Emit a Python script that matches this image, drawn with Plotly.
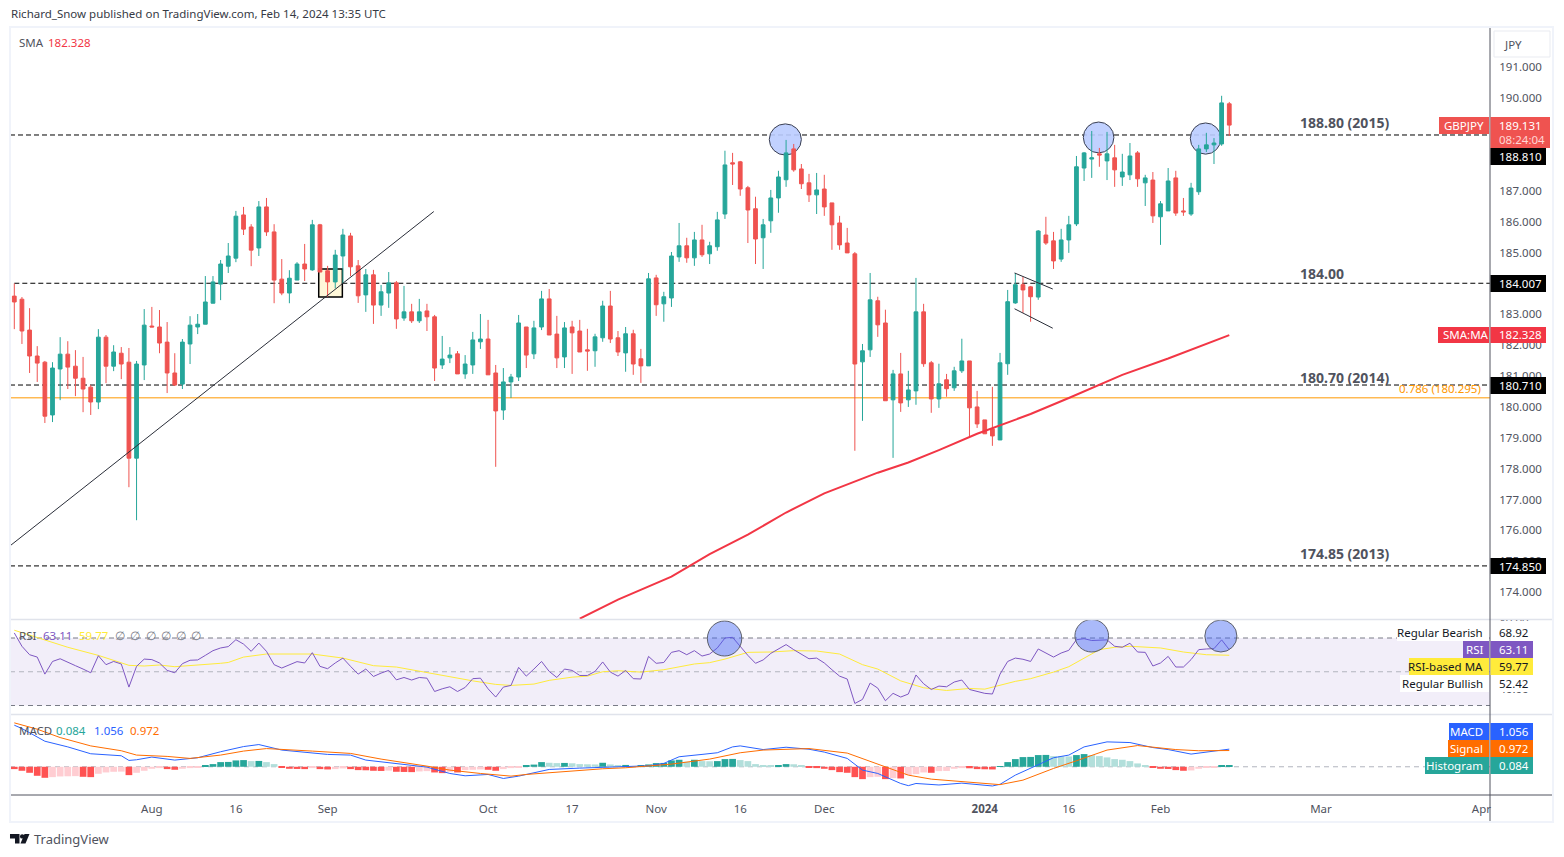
import plotly.graph_objects as go

W, H = 1564, 857
FONT = "Noto Sans"

# daily GBPJPY candles
opens = [
    183.59, 183.49, 182.49, 181.65, 181.45, 179.74, 181.23, 181.71, 181.32, 180.93,
    180.64, 180.16, 182.26, 181.32, 181.74, 181.45, 178.34, 181.36, 182.62, 182.59,
    182.10, 181.10, 180.74, 182.04, 182.59, 182.68, 183.36, 183.98, 184.56, 184.82,
    186.22, 185.83, 185.15, 186.48, 185.67, 184.14, 183.69, 184.11, 184.63, 184.44,
    185.90, 184.41, 184.05, 184.89, 185.54, 184.57, 183.63, 184.28, 183.30, 183.69,
    184.02, 182.88, 183.08, 182.79, 183.11, 182.92, 181.36, 181.59, 181.72, 181.07,
    181.36, 182.11, 182.20, 181.10, 179.90, 180.81, 180.97, 182.59, 181.72, 182.59,
    183.50, 182.36, 181.62, 182.59, 182.46, 181.85, 181.82, 182.24, 183.27, 182.24,
    181.75, 182.37, 181.56, 181.33, 184.18, 183.34, 183.53, 184.86, 185.22, 184.83,
    185.41, 184.96, 185.19, 186.25, 187.91, 187.94, 187.10, 186.42, 185.48, 186.03,
    186.77, 187.36, 188.36, 187.71, 187.26, 186.87, 187.06, 186.61, 185.96, 185.31,
    184.96, 181.46, 181.85, 183.44, 182.72, 180.23, 181.07, 180.23, 180.52, 183.08,
    181.43, 180.26, 180.88, 180.62, 181.17, 181.49, 180.00, 179.58, 179.29, 178.93,
    181.40, 183.37, 183.96, 183.89, 183.56, 185.57, 185.38, 184.79, 185.41, 185.93,
    187.74, 188.03, 188.20, 187.97, 188.07, 187.45, 187.52, 188.23, 187.26, 187.35,
    186.16, 186.35, 187.42, 186.35, 186.25, 186.97, 188.36, 188.49, 188.52, 189.82,
]
closes = [
    183.40, 182.46, 181.65, 181.42, 179.70, 181.26, 181.71, 181.29, 180.93, 180.58,
    180.16, 182.26, 181.32, 181.78, 181.39, 178.34, 181.39, 182.65, 182.59, 182.07,
    181.10, 180.71, 182.10, 182.65, 182.68, 183.40, 184.05, 184.63, 184.89, 186.18,
    185.76, 185.08, 186.48, 185.67, 184.11, 183.69, 184.17, 184.63, 184.47, 185.90,
    184.37, 184.05, 184.92, 185.57, 184.54, 183.60, 184.28, 183.30, 183.73, 184.02,
    182.85, 183.08, 182.79, 183.08, 182.92, 181.26, 181.55, 181.68, 181.07, 181.39,
    182.17, 182.20, 181.04, 179.87, 180.81, 180.97, 182.72, 181.68, 182.56, 183.50,
    182.33, 181.59, 182.56, 182.40, 181.78, 181.81, 182.27, 183.27, 182.20, 181.78,
    182.37, 181.39, 181.33, 184.15, 183.31, 183.57, 184.89, 185.22, 184.83, 185.41,
    184.93, 185.22, 186.06, 187.84, 187.87, 187.06, 186.38, 185.44, 185.90, 186.77,
    187.45, 188.23, 187.68, 187.23, 186.87, 187.03, 186.48, 185.90, 185.25, 184.99,
    181.39, 181.82, 183.47, 182.66, 180.20, 181.07, 180.13, 180.55, 183.08, 181.40,
    180.26, 180.75, 180.59, 181.17, 181.49, 179.97, 179.45, 179.13, 179.06, 181.43,
    183.41, 183.96, 183.79, 183.57, 185.70, 185.31, 184.73, 185.41, 185.90, 187.78,
    188.23, 188.07, 188.16, 188.20, 187.68, 187.61, 188.13, 187.39, 187.42, 186.19,
    186.58, 187.32, 186.28, 186.32, 187.09, 188.36, 188.49, 188.55, 189.85, 189.13,
]
highs = [
    184.00, 183.56, 183.20, 181.97, 181.49, 181.45, 182.26, 182.13, 181.84, 181.62,
    180.71, 182.52, 182.33, 182.00, 181.94, 181.91, 181.49, 183.17, 183.24, 183.14,
    182.75, 181.74, 182.20, 182.94, 183.01, 184.24, 184.24, 184.76, 185.31, 186.35,
    186.48, 185.92, 186.67, 186.77, 185.92, 184.79, 184.43, 184.69, 185.28, 186.06,
    185.93, 184.57, 185.09, 185.77, 185.64, 184.76, 184.47, 184.44, 183.95, 184.37,
    184.08, 183.92, 183.34, 183.50, 183.34, 182.98, 182.30, 181.94, 181.81, 181.68,
    182.43, 183.01, 182.82, 181.36, 181.26, 181.07, 182.98, 182.59, 182.79, 183.76,
    183.82, 182.95, 182.75, 182.79, 182.82, 182.53, 182.37, 183.44, 183.76, 182.46,
    182.59, 182.50, 181.88, 184.34, 184.28, 183.73, 185.02, 185.96, 185.48, 185.67,
    185.90, 185.35, 186.32, 188.30, 188.23, 187.97, 187.16, 186.81, 186.09, 187.03,
    187.65, 188.65, 188.52, 187.87, 187.55, 187.58, 187.52, 186.61, 186.19, 185.80,
    185.02, 182.04, 184.34, 183.57, 183.15, 181.20, 181.75, 181.17, 184.18, 183.34,
    181.49, 181.40, 181.07, 181.30, 182.21, 181.49, 180.52, 179.58, 180.65, 181.75,
    183.79, 184.34, 184.22, 183.92, 185.73, 186.16, 185.67, 185.77, 186.19, 188.13,
    188.26, 188.94, 188.39, 188.91, 188.49, 188.20, 188.55, 188.29, 187.52, 187.61,
    186.67, 187.74, 187.65, 186.77, 187.26, 188.49, 188.88, 188.71, 190.08, 189.88,
]
lows = [
    182.52, 182.04, 181.10, 180.81, 179.48, 179.51, 180.22, 180.58, 180.35, 179.83,
    179.74, 179.93, 180.77, 181.16, 180.90, 177.40, 176.33, 180.87, 182.59, 181.74,
    180.45, 180.68, 180.58, 181.39, 182.36, 182.68, 183.36, 183.46, 184.34, 184.69,
    185.57, 184.56, 184.89, 185.54, 183.36, 183.62, 183.36, 184.11, 184.08, 184.41,
    184.37, 183.57, 183.84, 184.01, 184.24, 183.37, 183.08, 182.69, 182.95, 183.21,
    182.53, 182.79, 182.72, 182.72, 182.46, 180.84, 181.23, 181.42, 181.07, 180.91,
    181.07, 181.88, 181.04, 178.06, 179.58, 180.29, 180.84, 181.26, 181.55, 182.49,
    182.33, 181.26, 181.26, 181.07, 181.78, 181.17, 181.30, 182.11, 182.07, 181.65,
    181.14, 181.04, 180.78, 181.33, 182.95, 182.76, 183.24, 184.70, 184.67, 184.57,
    184.86, 184.63, 185.06, 186.09, 187.19, 186.84, 185.31, 184.63, 184.47, 185.64,
    186.29, 187.13, 187.62, 187.06, 186.64, 186.25, 186.19, 185.09, 185.09, 184.99,
    178.58, 179.55, 181.62, 182.27, 180.20, 178.35, 179.84, 180.00, 180.07, 181.30,
    179.81, 179.97, 180.33, 180.52, 181.10, 179.03, 179.32, 179.13, 178.74, 178.93,
    181.04, 183.34, 183.05, 182.76, 183.47, 185.25, 184.47, 184.70, 184.99, 185.86,
    187.32, 187.42, 187.78, 187.35, 187.13, 187.16, 187.35, 187.13, 186.51, 185.96,
    185.25, 186.35, 186.19, 186.19, 186.19, 186.87, 188.26, 187.87, 188.46, 188.78,
]

sma_idx = [74, 79, 86, 91, 96, 101, 106, 109, 113, 117, 121, 126, 133, 138, 142, 145, 151, 153, 159]
sma_val = [173.14, 173.76, 174.50, 175.23, 175.86, 176.58, 177.20, 177.49, 177.87, 178.20,
           178.60, 179.13, 179.77, 180.29, 180.71, 181.04, 181.57, 181.76, 182.328]

rsi = [
    73.0, 65.1, 60.1, 58.7, 48.6, 56.1, 57.7, 55.5, 53.6, 51.6,
    49.4, 59.5, 54.2, 56.1, 54.6, 40.9, 53.2, 57.5, 57.2, 55.2,
    50.8, 49.4, 54.8, 56.8, 57.0, 59.7, 62.5, 64.1, 64.9, 69.0,
    66.4, 62.1, 67.0, 62.1, 54.2, 52.2, 54.2, 56.0, 55.2, 61.3,
    53.2, 51.8, 55.2, 58.1, 53.2, 48.6, 51.6, 47.2, 49.2, 50.8,
    45.2, 46.6, 45.1, 46.6, 46.2, 38.3, 39.9, 41.1, 38.3, 40.7,
    45.9, 46.2, 39.9, 35.0, 40.9, 41.9, 52.6, 47.4, 51.6, 56.1,
    50.2, 46.6, 51.6, 50.8, 47.8, 47.8, 50.2, 55.8, 49.8, 47.4,
    50.8, 45.9, 45.7, 59.1, 55.0, 55.5, 61.5, 62.5, 60.1, 62.5,
    59.3, 60.5, 64.1, 70.0, 70.4, 64.9, 59.7, 55.0, 57.0, 60.9,
    63.7, 66.1, 63.1, 60.5, 57.7, 58.1, 55.2, 51.2, 47.4, 45.7,
    31.2, 33.6, 43.3, 40.3, 32.8, 37.2, 35.0, 36.8, 48.1, 42.9,
    39.5, 41.5, 41.1, 43.9, 45.1, 39.5, 38.2, 37.2, 36.8, 48.6,
    56.1, 58.1, 57.4, 56.1, 63.5, 61.1, 58.7, 61.1, 62.7, 69.0,
    69.6, 68.5, 68.9, 68.9, 65.1, 64.5, 66.9, 61.7, 61.5, 53.4,
    55.2, 59.1, 52.8, 52.8, 57.2, 63.1, 63.5, 63.7, 68.9, 63.11,
]
rsi_ma_idx = [0, 3, 7, 11, 15, 17, 19, 21, 24, 27, 28, 30, 33, 36, 39, 43, 47, 50, 54, 57, 60, 63, 65,
              68, 70, 73, 75, 77, 79, 82, 85, 89, 91, 93, 96, 99, 102, 105, 108, 111, 113, 116, 119,
              122, 125, 127, 129, 131, 133, 136, 138, 140, 142, 144, 146, 150, 153, 156, 159]
rsi_ma_val = [74.6, 70.4, 64.5, 59.7, 53.8, 53.4, 54.0, 53.0, 53.8, 55.0, 55.5, 58.7, 60.5, 60.7, 60.5,
              58.1, 53.6, 52.8, 49.6, 46.8, 44.6, 42.5, 41.9, 42.7, 44.9, 46.8, 47.4, 50.0, 50.6, 49.8,
              51.2, 54.6, 55.4, 57.5, 61.5, 61.7, 62.5, 62.3, 60.5, 54.2, 51.6, 44.6, 40.5, 38.9, 40.1,
              39.7, 41.9, 44.3, 45.9, 49.8, 53.0, 58.1, 63.1, 64.5, 65.1, 64.1, 61.7, 60.1, 59.77]

macd_idx = [0, 1, 4, 7, 10, 14, 15, 16, 18, 21, 24, 27, 30, 32, 35, 38, 41, 44, 46, 51, 54, 57, 59, 62,
            64, 66, 68, 70, 74, 77, 80, 83, 85, 87, 90, 92, 94, 95, 98, 101, 104, 106, 109, 111, 113,
            116, 117, 118, 121, 124, 128, 129, 131, 133, 136, 138, 140, 143, 146, 149, 151, 154, 156, 159]
macd_val = [2.49, 2.29, 1.53, 1.19, 0.78, 0.66, 0.38, 0.42, 0.58, 0.40, 0.54, 0.90, 1.21, 1.33, 1.00,
            0.86, 0.74, 0.70, 0.40, 0.14, -0.02, -0.40, -0.54, -0.46, -0.70, -0.56, -0.36, -0.16, -0.08,
            -0.02, 0.02, 0.06, 0.20, 0.60, 0.74, 0.84, 1.19, 1.25, 1.03, 1.17, 1.05, 0.88, 0.50, -0.20,
            -0.40, -1.00, -1.13, -1.00, -1.09, -0.98, -1.15, -1.05, -0.50, -0.10, 0.54, 0.70, 1.19, 1.49,
            1.45, 1.15, 1.03, 0.76, 0.88, 1.056]
signal_idx = [0, 3, 6, 10, 14, 16, 20, 23, 27, 30, 33, 35, 39, 44, 48, 54, 57, 61, 65, 67, 73, 77, 80,
              86, 91, 95, 98, 104, 109, 111, 114, 117, 120, 123, 126, 129, 132, 136, 139, 143, 147, 152,
              155, 159]
signal_val = [2.63, 2.25, 1.75, 1.25, 0.96, 0.70, 0.62, 0.50, 0.70, 0.94, 1.09, 1.05, 0.94, 0.80, 0.46,
              0.04, -0.20, -0.40, -0.56, -0.46, -0.24, -0.12, -0.06, 0.16, 0.46, 0.84, 1.00, 1.09, 0.82,
              0.50, 0.00, -0.50, -0.74, -0.86, -0.96, -1.07, -0.80, -0.10, 0.36, 1.00, 1.27, 1.03, 0.96,
              0.972]
hist = [
    -0.14, -0.24, -0.36, -0.54, -0.66, -0.62, -0.58, -0.57, -0.56, -0.60,
    -0.62, -0.42, -0.34, -0.30, -0.29, -0.50, -0.36, -0.24, -0.12, -0.08,
    -0.14, -0.18, -0.12, -0.08, -0.03, 0.08, 0.16, 0.28, 0.29, 0.38,
    0.40, 0.34, 0.35, 0.28, 0.16, -0.06, -0.12, -0.13, -0.14, -0.08,
    -0.14, -0.16, -0.14, -0.10, -0.14, -0.20, -0.21, -0.24, -0.25, -0.23,
    -0.30, -0.31, -0.32, -0.28, -0.26, -0.34, -0.38, -0.30, -0.34, -0.20,
    -0.18, -0.16, -0.18, -0.24, -0.14, -0.08, -0.02, 0.10, 0.13, 0.28,
    0.24, 0.22, 0.23, 0.21, 0.16, 0.15, 0.14, 0.24, 0.14, 0.10,
    0.11, 0.02, 0.05, 0.14, 0.22, 0.23, 0.38, 0.42, 0.30, 0.42,
    0.34, 0.33, 0.34, 0.46, 0.47, 0.40, 0.34, 0.16, 0.08, 0.07,
    0.10, 0.16, 0.15, 0.08, -0.02, -0.08, -0.12, -0.20, -0.32, -0.36,
    -0.62, -0.74, -0.62, -0.60, -0.74, -0.68, -0.70, -0.50, -0.44, -0.34,
    -0.36, -0.26, -0.25, -0.12, -0.08, -0.09, -0.14, -0.15, -0.16, 0.04,
    0.28, 0.46, 0.58, 0.59, 0.70, 0.71, 0.64, 0.63, 0.62, 0.70,
    0.76, 0.70, 0.64, 0.56, 0.46, 0.42, 0.34, 0.20, 0.08, -0.06,
    -0.12, -0.13, -0.20, -0.24, -0.22, -0.12, -0.06, -0.02, 0.08, 0.084,
]

tick_idx = [18, 29, 41, 62, 73, 84, 95, 106, 127, 138, 150, 171, 192]
tick_txt = ["Aug", "16", "Sep", "Oct", "17", "Nov", "16", "Dec", "<b>2024</b>", "16", "Feb", "Mar", "Apr"]
price_ticks = [174, 175, 176, 177, 178, 179, 180, 181, 182, 183, 185, 186, 187, 190, 191]

levels = [188.81, 184.007, 180.71, 174.85]
fib_786 = 180.295
X_MIN, X_MAX = -0.563, 193.12

days = list(range(len(opens)))


def hist_colors(values):
    out = []
    for i, v in enumerate(values):
        prev = values[i - 1] if i else v
        if v >= 0:
            out.append("#26a69a" if v >= prev else "#b2dfdb")
        else:
            out.append("#ff5252" if v <= prev else "#ffcdd2")
    return out


def px(x):
    return x / W


def py(y):
    return 1 - y / H


shapes = []
notes = []


def label(x, y, text, color="#131722", size=11.5, anchor="left"):
    notes.append(dict(x=px(x), y=py(y), xref="paper", yref="paper", text=text, showarrow=False,
                      xanchor=anchor, yanchor="middle", borderpad=0,
                      font=dict(family=FONT, size=size, color=color)))


def box(x0, y0, x1, y1, fill, line=None, width=0):
    shapes.append(dict(type="rect", xref="paper", yref="paper", layer="above",
                       x0=px(x0), x1=px(x1), y0=py(y0), y1=py(y1), fillcolor=fill,
                       line=dict(color=line or fill, width=width)))


def rule(x0, y0, x1, y1, color, width=1):
    shapes.append(dict(type="line", xref="paper", yref="paper", layer="above",
                       x0=px(x0), x1=px(x1), y0=py(y0), y1=py(y1), line=dict(color=color, width=width)))


def on_price(kind, x0, y0, x1, y1, **kw):
    shapes.append(dict(type=kind, xref="x", yref="y", x0=x0, x1=x1, y0=y0, y1=y1, **kw))


fig = go.Figure()
fig.add_trace(go.Candlestick(
    x=days, open=opens, high=highs, low=lows, close=closes, yaxis="y", hoverinfo="skip",
    increasing=dict(line=dict(color="#26a69a", width=1), fillcolor="#26a69a"),
    decreasing=dict(line=dict(color="#ef5350", width=1), fillcolor="#ef5350"),
))
fig.add_trace(go.Scatter(x=sma_idx, y=sma_val, yaxis="y", mode="lines", hoverinfo="skip",
                         line=dict(color="#f23645", width=2)))
fig.add_trace(go.Scatter(x=rsi_ma_idx, y=rsi_ma_val, yaxis="y2", mode="lines", hoverinfo="skip",
                         line=dict(color="#ffeb3b", width=1)))
fig.add_trace(go.Scatter(x=days, y=rsi, yaxis="y2", mode="lines", hoverinfo="skip",
                         line=dict(color="#7e57c2", width=1)))
fig.add_trace(go.Bar(x=days, y=hist, yaxis="y3", marker=dict(color=hist_colors(hist), line=dict(width=0)),
                     hoverinfo="skip"))
fig.add_trace(go.Scatter(x=macd_idx, y=macd_val, yaxis="y3", mode="lines", hoverinfo="skip",
                         line=dict(color="#2962ff", width=1)))
fig.add_trace(go.Scatter(x=signal_idx, y=signal_val, yaxis="y3", mode="lines", hoverinfo="skip",
                         line=dict(color="#ff6d00", width=1)))

# levels and drawings on the price pane
on_price("line", X_MIN, fib_786, X_MAX, fib_786, layer="below", line=dict(color="#ff9800", width=1))
for i, lv in enumerate(levels):
    on_price("line", 0 if i == 1 else X_MIN, lv, X_MAX, lv, layer="below",
             line=dict(color="#000000", width=1, dash="5px,3px"))
on_price("rect", 39.84, 183.56, 42.93, 184.47, layer="below", fillcolor="#fff8d9",
         line=dict(color="#000000", width=1.5))
on_price("line", -0.56, 175.50, 54.9, 186.33, layer="above", line=dict(color="#2a2e39", width=1))
on_price("line", 130.9, 184.34, 135.9, 183.82, layer="above", line=dict(color="#2a2e39", width=1))
on_price("line", 130.9, 183.18, 135.9, 182.55, layer="above", line=dict(color="#2a2e39", width=1))
for x0, x1, y0, y1 in [(98.8, 103.0, 188.16, 189.17), (139.9, 143.9, 188.23, 189.23), (153.9, 157.9, 188.19, 189.20)]:
    on_price("circle", x0, y0, x1, y1, layer="below", fillcolor="rgba(186,204,255,0.9)",
             line=dict(color="#3a3f52", width=1))

# rsi band
shapes.append(dict(type="rect", xref="x", yref="y2", x0=X_MIN, x1=X_MAX, y0=30, y1=70, layer="below",
                   fillcolor="rgba(126,87,194,0.1)", line=dict(width=0)))
for lv, col in [(70, "#787b86"), (50, "#b2b5be"), (30, "#787b86")]:
    shapes.append(dict(type="line", xref="x", yref="y2", x0=X_MIN, x1=X_MAX, y0=lv, y1=lv, layer="below",
                       line=dict(color=col, width=1, dash="5px,4px")))
for x0, x1, y0, y1 in [(90.7, 95.2, 59.33, 80.07), (138.8, 143.2, 61.7, 80.96), (155.8, 160.0, 61.7, 80.67)]:
    shapes.append(dict(type="circle", xref="x", yref="y2", x0=x0, x1=x1, y0=y0, y1=y1, layer="above",
                       fillcolor="rgba(66,103,245,0.45)", line=dict(color="#5d606b", width=1)))
shapes.append(dict(type="line", xref="x", yref="y3", x0=X_MIN, x1=X_MAX, y0=0, y1=0, layer="below",
                   line=dict(color="#b2b5be", width=1, dash="5px,4px")))

# frame, separators, axis lines
box(1491, 610, 1552, 620, "#ffffff")
box(1491, 621, 1552, 692, "#ffffff")
rule(10, 619.5, 1553, 619.5, "#e0e3eb", 1.5)
rule(10, 714.5, 1553, 714.5, "#e0e3eb", 1.5)
rule(10, 795, 1553, 795, "#50535e", 1)
rule(1490, 27, 1490, 822, "#50535e", 1)
box(10, 27, 1553, 822, "rgba(0,0,0,0)", "#f0f3fa", 2)
shapes.append(dict(type="rect", xref="paper", yref="paper", layer="above", x0=px(1494), x1=px(1550),
                   y0=py(31), y1=py(57), fillcolor="#ffffff", line=dict(color="#e9ebf1", width=1)))
label(1503, 44.5, "JPY", "#50535e")

# price tags
for y0, y1, txt in [(148, 165, "188.810"), (275, 292, "184.007"), (377, 394, "180.710"), (558, 574, "174.850")]:
    box(1490.5, y0, 1546, y1, "#000000")
    label(1498, (y0 + y1) / 2, txt, "#ffffff")
box(1439, 117, 1489, 134, "#ef5350")
box(1490.5, 117, 1550, 148, "#ef5350")
label(1443, 125.5, "GBPJPY", "#ffffff")
label(1498, 125.5, "189.131", "#ffffff")
label(1498, 140, "08:24:04", "#ffd6d4")
box(1438, 327, 1489, 343, "#f23645")
box(1490.5, 327, 1546, 343, "#f23645")
label(1442, 335, "SMA:MA", "#ffffff")
label(1498, 335, "182.328", "#ffffff")

# rsi tags
box(1397, 624, 1489, 641, "#ffffff")
label(1484, 632, "Regular Bearish", "#131722", 11.5, "right")
label(1498, 632, "68.92", "#131722")
box(1463, 641, 1489, 658, "#7e57c2")
box(1490.5, 641, 1533, 658, "#7e57c2")
label(1484, 649.5, "RSI", "#ffffff", 11.5, "right")
label(1498, 649.5, "63.11", "#ffffff")
box(1409, 658, 1489, 675, "#ffeb3b")
box(1490.5, 658, 1533, 675, "#ffeb3b")
label(1484, 666.5, "RSI-based MA", "#131722", 11.5, "right")
label(1498, 666.5, "59.77", "#131722")
box(1400, 675, 1489, 692, "#ffffff")
label(1484, 683, "Regular Bullish", "#131722", 11.5, "right")
label(1498, 683, "52.42", "#131722")

# macd tags
for y0, y1, x0, name, val, col in [(723, 740, 1449, "MACD", "1.056", "#2962ff"),
                                   (740, 757, 1448, "Signal", "0.972", "#ff6d00"),
                                   (757, 774, 1425, "Histogram", "0.084", "#26a69a")]:
    box(x0, y0, 1489, y1, col)
    box(1490.5, y0, 1533, y1, col)
    label(1484, (y0 + y1) / 2, name, "#ffffff", 11.5, "right")
    label(1498, (y0 + y1) / 2, val, "#ffffff")

# pane legends and level captions
label(10, 14, "Richard_Snow published on TradingView.com, Feb 14, 2024 13:35 UTC", "#363a45")
label(18, 42, "SMA", "#50535e")
label(47, 42, "182.328", "#f23645")
label(18, 635, "RSI", "#50535e")
label(42, 635, "63.11", "#7e57c2")
label(78, 635, "59.77", "#ffeb3b")
for x in [114, 129, 145, 160, 175, 190]:
    label(x, 635, "∅", "#787b86")
label(18, 730, "MACD", "#50535e")
label(55, 730, "0.084", "#26a69a")
label(93, 730, "1.056", "#2962ff")
label(129, 730, "0.972", "#ff6d00")
label(1299, 123, "<b>188.80 (2015)</b>", "#50535e", 14)
label(1299, 273, "<b>184.00</b>", "#50535e", 14)
label(1299, 377, "<b>180.70 (2014)</b>", "#50535e", 14)
label(1299, 553, "<b>174.85 (2013)</b>", "#50535e", 14)
label(1398, 388, "0.786 (180.295)", "#ff9800")

# tradingview mark
for d in [[(10, 834), (19.5, 834), (19.5, 843.5), (15, 843.5), (15, 838.5), (10, 838.5)],
          [(24.5, 834), (29.5, 834), (25.5, 843.6), (20.5, 843.6)]]:
    path = "M" + " L".join(f"{px(a):.5f},{py(b):.5f}" for a, b in d) + " Z"
    shapes.append(dict(type="path", xref="paper", yref="paper", layer="above", path=path,
                       fillcolor="#131722", line=dict(width=0)))
shapes.append(dict(type="circle", xref="paper", yref="paper", layer="above", x0=px(20), x1=px(24.4),
                   y0=py(834.2), y1=py(838.6), fillcolor="#131722", line=dict(width=0)))
label(33, 839, "TradingView", "#50535e", 13)

tick_font = dict(size=11.5, color="#50535e")
fig.update_layout(
    width=W, height=H, margin=dict(l=0, r=0, t=0, b=0, autoexpand=False),
    paper_bgcolor="#ffffff", plot_bgcolor="#ffffff",
    showlegend=False, bargap=0.12, shapes=shapes, annotations=notes,
    font=dict(family=FONT, size=12, color="#50535e"),
    xaxis=dict(domain=[px(10), px(1490)], range=[X_MIN, X_MAX], anchor="y3", rangeslider=dict(visible=False),
               tickmode="array", tickvals=tick_idx, ticktext=tick_txt, showgrid=False, zeroline=False,
               ticks="outside", ticklen=3, tickcolor="rgba(0,0,0,0)", tickfont=tick_font),
    yaxis=dict(domain=[py(619), py(28)], range=[173.13, 192.276], side="right", anchor="x", showgrid=False,
               zeroline=False, tickmode="array", tickvals=price_ticks, tickformat=".3f",
               ticks="outside", ticklen=6, tickcolor="rgba(0,0,0,0)", tickfont=tick_font),
    yaxis2=dict(domain=[py(714), py(620)], range=[24.96, 80.67], side="right", anchor="x", showgrid=False,
                zeroline=False, tickmode="array", tickvals=[80, 40], tickformat=".2f",
                ticks="outside", ticklen=6, tickcolor="rgba(0,0,0,0)", tickfont=tick_font),
    yaxis3=dict(domain=[py(795), py(715)], range=[-1.69, 3.10], side="right", anchor="x", showgrid=False,
                zeroline=False, showticklabels=False),
)

fig.write_html("out.html", config=dict(displayModeBar=False),
               post_script="document.body.style.margin='0';")
